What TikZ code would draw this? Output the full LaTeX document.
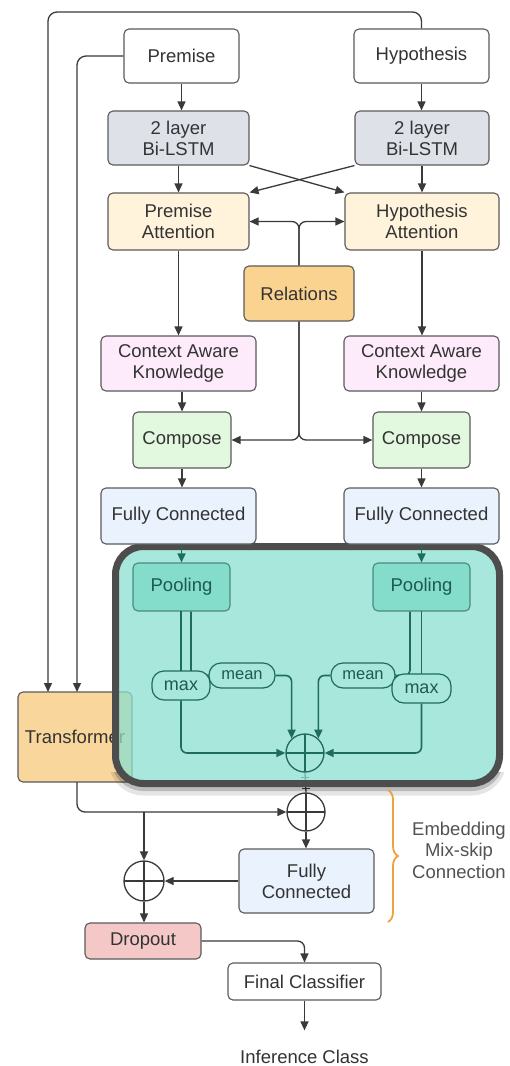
\documentclass[tikz,border=0pt]{standalone}
\usepackage{fontspec}
\setmainfont{Liberation Sans}
\usetikzlibrary{arrows.meta,calc,decorations.pathreplacing}

\definecolor{txt}{HTML}{333333}
\definecolor{linec}{HTML}{3A3A3A}
\definecolor{boxline}{HTML}{5A5A5A}
\definecolor{lstmfill}{HTML}{DEE2E8}
\definecolor{attfill}{HTML}{FFF3DC}
\definecolor{relfill}{HTML}{FBD390}
\definecolor{cakfill}{HTML}{FDEAFA}
\definecolor{compfill}{HTML}{E2F8DF}
\definecolor{fcfill}{HTML}{E9F2FD}
\definecolor{transfill}{HTML}{F9D69C}
\definecolor{dropfill}{HTML}{F5C8C8}
\definecolor{tealveil}{HTML}{8BE0D0}
\definecolor{tealbg}{HTML}{A8E8DC}
\definecolor{poolfill}{HTML}{84DCCA}
\definecolor{tealdark}{HTML}{1F6B5E}
\definecolor{tealtxt}{HTML}{1D5A50}
\definecolor{frame}{HTML}{4D4D4D}
\definecolor{bracec}{HTML}{F0A040}

\pgfdeclarelayer{paper}
\pgfdeclarelayer{under}
\pgfdeclarelayer{veil}
\pgfsetlayers{paper,under,veil,main}

\tikzset{
  base/.style={draw=boxline, line width=1.1pt, rounded corners=5pt, text=txt,
    align=center, inner sep=2pt,
    font=\fontsize{18.5pt}{21pt}\selectfont},
  box/.style args={#1/#2/#3}{base, fill=#1, minimum width=#2, minimum height=#3},
  poolbox/.style={draw=tealdark!80, line width=1.1pt, rounded corners=5pt,
    fill=poolfill, text=tealtxt, minimum width=97pt, minimum height=48pt,
    font=\fontsize{18.5pt}{21pt}\selectfont},
  pill/.style={draw=tealdark, line width=1.2pt, rounded corners=12pt,
    fill=tealbg, text=tealtxt, inner sep=0pt},
  oplus/.style={circle, draw=#1, line width=1.3pt, minimum size=38pt, inner sep=0pt,
    path picture={\draw[#1, line width=1.2pt]
      (path picture bounding box.north) -- (path picture bounding box.south)
      (path picture bounding box.west) -- (path picture bounding box.east);}},
  arr/.style={draw=linec, line width=1.3pt, -{Triangle[length=9pt,width=8pt]}},
  plain/.style={draw=linec, line width=1.3pt},
  tarr/.style={draw=tealdark, line width=1.6pt, -{Triangle[length=9pt,width=8pt]}},
  tline/.style={draw=tealdark, line width=1.6pt},
}

\begin{document}
\begin{tikzpicture}[x=1pt,y=-1pt]
\begin{pgfonlayer}{paper}
  \fill[white] (0,0) rectangle (510,1066);
\end{pgfonlayer}
\useasboundingbox (0,0) rectangle (510,1066);

% ---- input encoders ----
\node[box=white/115pt/54pt] (prem) at (181.5,56) {Premise};
\node[box=white/135pt/54pt] (hyp) at (421.5,56) {Hypothesis};
\node[box=lstmfill/141pt/54pt] (lstmL) at (178.5,138) {2 layer\\Bi-LSTM};
\node[box=lstmfill/134pt/54pt] (lstmR) at (422,138) {2 layer\\Bi-LSTM};
\node[box=attfill/141pt/57pt] (attL) at (178.5,221.5) {Premise\\Attention};
\node[box=attfill/154pt/57pt] (attR) at (422,221.5) {Hypothesis\\Attention};
\node[box=relfill/110pt/55pt] (rel) at (299,293.5) {Relations};
\node[box=cakfill/155pt/55pt] (cakL) at (178.5,363.5) {Context Aware\\Knowledge};
\node[box=cakfill/155pt/55pt] (cakR) at (421.5,363.5) {Context Aware\\Knowledge};
\node[box=compfill/98pt/56pt] (compL) at (182,440) {Compose};
\node[box=compfill/97pt/56pt] (compR) at (421.5,440) {Compose};
\node[box=fcfill/155pt/56pt] (fcL) at (178.5,516) {Fully Connected};
\node[box=fcfill/155pt/56pt] (fcR) at (421.5,516) {Fully Connected};

% ---- pooling block ----
\node[poolbox] (poolL) at (181.5,587) {Pooling};
\node[poolbox] (poolR) at (421.5,587) {Pooling};
\draw[tarr] (fcL.south -| poolL.north) -- (poolL.north);
\draw[tarr] (fcR.south -| poolR.north) -- (poolR.north);

% pooling branches (under the pills)
\draw[tline] (181,611) -- (181,671);
\draw[tline, rounded corners=5pt] ($(poolL.south)+(9.5,0)$) |- (242,675.5);
\draw[tline] (421.5,611) -- (421.5,674);
\draw[tline, rounded corners=5pt] ($(poolR.south)+(-11.5,0)$) |- (363,675.5);

\node[pill, minimum width=58pt, minimum height=29pt,
  font=\fontsize{18pt}{18pt}\selectfont] (maxL) at (181,685.5) {max};
\node[pill, minimum width=66pt, minimum height=25pt,
  font=\fontsize{16.5pt}{16.5pt}\selectfont] (meanL) at (242,675.5) {mean};
\node[pill, minimum width=64pt, minimum height=25pt,
  font=\fontsize{16.5pt}{16.5pt}\selectfont] (meanR) at (363,675.5) {mean};
\node[pill, minimum width=59pt, minimum height=29pt,
  font=\fontsize{18pt}{18pt}\selectfont] (maxR) at (421.5,688.5) {max};

\node[oplus=tealdark] (sumA) at (305,753) {};

\draw[tarr, rounded corners=6pt] (maxL.south) |- (sumA.west);
\draw[tarr, rounded corners=6pt] (maxR.south) |- (sumA.east);
\draw[tarr, rounded corners=6pt] (meanL.east) -| (sumA.133);
\draw[tarr, rounded corners=6pt] (meanR.west) -| (sumA.47);

% ---- skip connection and classifier ----
\node[oplus=linec, fill=white] (sumB) at (306,812) {};
\node[oplus=linec, minimum size=40pt] (sumC) at (144,881) {};
\node[box=fcfill/135pt/64pt] (fcB) at (306.5,881) {Fully\\Connected};
\node[box=dropfill/116pt/36pt] (drop) at (143,941) {Dropout};
\node[box=white/153pt/37pt] (fin) at (304.5,981.5) {Final Classifier};
\node[text=txt, inner sep=0pt, anchor=base,
  font=\fontsize{18.5pt}{21pt}\selectfont] (inf) at (304.5,1063) {Inference Class};

\node[text=txt!85!white, align=center, inner sep=0pt,
  font=\fontsize{18.5pt}{21.5pt}\selectfont] (emb) at (459,850) {Embedding\\Mix-skip\\Connection};
\draw[draw=bracec, line width=1.8pt, decorate,
  decoration={brace, amplitude=10pt}] (388,790) -- (388,922);

% ---- connectors ----
\coordinate (topL) at (48,12);
\coordinate (tinA) at (48,692);
\coordinate (tinB) at (77,692);

\draw[arr] (prem.south) -- (prem.south |- lstmL.north);
\draw[arr] (hyp.south) -- (hyp.south |- lstmR.north);
\draw[arr] (lstmL.south) -- (lstmL.south |- attL.north);
\draw[arr] (lstmR.south) -- (lstmR.south |- attR.north);
\draw[arr] (lstmL.south east) -- (attR.north west);
\draw[arr] (lstmR.south west) -- (attL.north east);
\draw[arr, rounded corners=7pt] (rel.north) |- (attL.east);
\draw[arr, rounded corners=7pt] (rel.north) |- (attR.west);
\draw[arr] (attL.south) -- (attL.south |- cakL.north);
\draw[arr] (attR.south) -- (attR.south |- cakR.north);
\draw[arr] (compL.north |- cakL.south) -- (compL.north);
\draw[arr] (cakR.south) -- (cakR.south |- compR.north);
\draw[arr, rounded corners=7pt] (rel.south) |- (compL.east);
\draw[arr, rounded corners=7pt] (rel.south) |- (compR.west);
\draw[arr] (compL.south) -- (compL.south |- fcL.north);
\draw[arr] (compR.south) -- (compR.south |- fcR.north);

\draw[arr, rounded corners=9pt] (hyp.north) |- (topL) -- (tinA);
\draw[arr, rounded corners=9pt] (prem.west) -| (tinB);

\draw[arr, rounded corners=8pt] (tinB |- 0,782) |- (sumB.west);
\draw[arr] (sumC.north |- sumB.west) -- (sumC.north);
\draw[arr] (sumB.south) -- (sumB.south |- fcB.north);
\draw[arr] (fcB.west) -- (sumC.east);
\draw[arr] (sumC.south) -- (sumC.south |- drop.north);
\draw[arr, rounded corners=7pt] (drop.east) -| (fin.north);
\draw[arr, shorten >=19pt] (fin.south) -- (inf.north);

% ---- beneath the translucent block ----
\begin{pgfonlayer}{under}
  \node[box=transfill/114pt/90pt] (trans) at (75,737) {Transformer};
  \draw[plain] (sumA.south) -- (sumB.north);
  \draw[plain] ($(sumA.south)+(-4,5)$) -- ($(sumA.south)+(4,5)$);
  \draw[plain] ($(sumB.north)+(-4,-4)$) -- ($(sumB.north)+(4,-4)$);
  \begin{scope}
    \clip (100,772) rectangle (510,805);
    \draw[black, opacity=0.10, line width=14pt, rounded corners=28pt]
      (115.5,551.5) rectangle (499.5,788.5);
    \draw[black, opacity=0.18, line width=9pt, rounded corners=28pt]
      (115.5,549.5) rectangle (499.5,786.5);
  \end{scope}
\end{pgfonlayer}

\begin{pgfonlayer}{veil}
  \fill[tealveil, fill opacity=0.75, rounded corners=28pt]
    (115.5,546.5) rectangle (499.5,783.5);
  \draw[frame, line width=7pt, rounded corners=28pt]
    (115.5,546.5) rectangle (499.5,783.5);
\end{pgfonlayer}

\end{tikzpicture}
\end{document}
